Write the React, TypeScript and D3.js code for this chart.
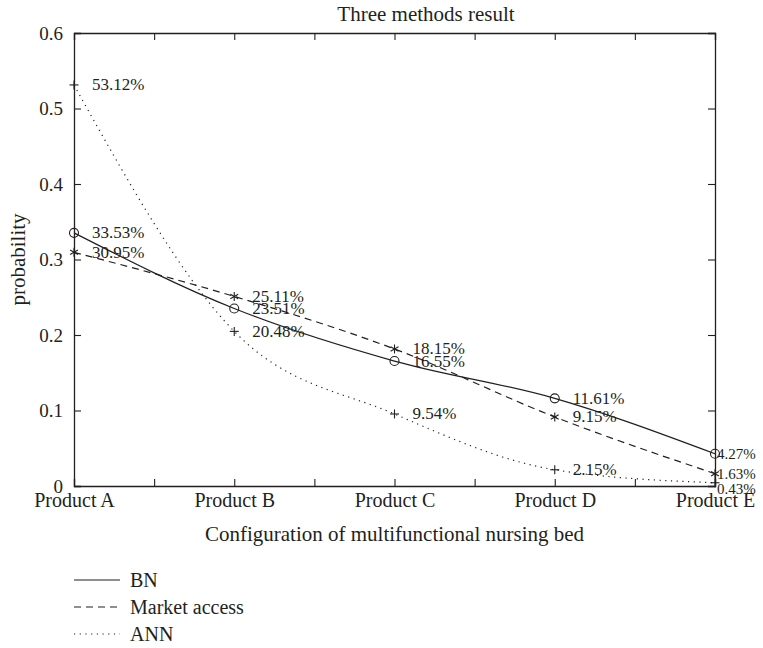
import React, { useEffect, useRef } from "react";
import * as d3 from "d3";

// values
const products = ["Product A", "Product B", "Product C", "Product D", "Product E"];
const bnValues = [0.3353, 0.2351, 0.1655, 0.1161, 0.0427];
const marketValues = [0.3095, 0.2511, 0.1815, 0.0915, 0.0163];
const annValues = [0.5312, 0.2048, 0.0954, 0.0215, 0.0043];
const yTicks = [0, 0.1, 0.2, 0.3, 0.4, 0.5, 0.6];
const xTicks = [1, 1.5, 2, 2.5, 3, 3.5, 4, 4.5, 5];
const seriesNames = ["BN", "Market access", "ANN"];

const FONT = "'Liberation Serif', 'Times New Roman', serif";
const INK = "#231f20";

export default function App() {
  const svgRef = useRef<SVGSVGElement>(null);

  useEffect(() => {
    document.body.style.margin = "0";
    const width = 763;
    const height = 648;
    const margin = { top: 33, right: 48, bottom: 162, left: 74 };

    const svg = d3.select(svgRef.current);
    svg.selectAll("*").remove();
    svg.attr("width", width).attr("height", height).style("display", "block");

    const x = d3.scaleLinear().domain([1, 5]).range([margin.left, width - margin.right]);
    const y = d3.scaleLinear().domain([0, 0.6]).range([height - margin.bottom, margin.top]);

    const series = [
      { name: seriesNames[0], values: bnValues, dash: null, marker: "circle" },
      { name: seriesNames[1], values: marketValues, dash: "7 5", marker: "star" },
      { name: seriesNames[2], values: annValues, dash: "1.2 4.5", marker: "plus" },
    ];

    const styleAxis = (size) => (g) => {
      g.select(".domain").attr("stroke", INK).attr("stroke-width", 1.3);
      g.selectAll(".tick line").attr("stroke", INK).attr("stroke-width", 1.1);
      g.selectAll(".tick text")
        .attr("fill", INK)
        .style("font-family", FONT)
        .style("font-size", `${size}px`);
    };

    // axes, ticks inward on all four sides
    svg.append("g")
      .attr("transform", `translate(0,${y(0)})`)
      .call(
        d3.axisBottom(x)
          .tickValues(xTicks)
          .tickSize(-7)
          .tickPadding(7)
          .tickFormat((d) => (Number.isInteger(d) ? products[d - 1] : ""))
      )
      .call(styleAxis(20));

    svg.append("g")
      .attr("transform", `translate(0,${y(0.6)})`)
      .call(d3.axisTop(x).tickValues(xTicks).tickSize(-7).tickFormat(() => ""))
      .call(styleAxis(19));

    svg.append("g")
      .attr("transform", `translate(${x(1)},0)`)
      .call(
        d3.axisLeft(y)
          .tickValues(yTicks)
          .tickSize(-7)
          .tickPadding(11)
          .tickFormat((d) => (d === 0 ? "0" : d3.format(".1f")(d)))
      )
      .call(styleAxis(19));

    svg.append("g")
      .attr("transform", `translate(${x(5)},0)`)
      .call(d3.axisRight(y).tickValues(yTicks).tickSize(-7).tickFormat(() => ""))
      .call(styleAxis(19));

    // lines
    const line = d3
      .line<number>()
      .x((_, i) => x(i + 1))
      .y((d) => y(d))
      .curve(d3.curveMonotoneX);

    series.forEach((s) => {
      svg.append("path")
        .datum(s.values)
        .attr("d", line)
        .attr("fill", "none")
        .attr("stroke", INK)
        .attr("stroke-width", 1.2)
        .attr("stroke-dasharray", s.dash);
    });

    // markers
    const drawMarker = (g, kind, cx, cy) => {
      if (kind === "circle") {
        g.append("circle").attr("cx", cx).attr("cy", cy).attr("r", 4.5)
          .attr("fill", "none").attr("stroke", INK).attr("stroke-width", 1.1);
      } else {
        const r = 4.5;
        const angles = kind === "plus" ? [0, 90] : [0, 60, 120];
        angles.forEach((a) => {
          const rad = (a * Math.PI) / 180;
          const dx = kind === "plus" ? r * Math.cos(rad) : r * Math.sin(rad);
          const dy = kind === "plus" ? r * Math.sin(rad) : r * Math.cos(rad);
          g.append("line")
            .attr("x1", cx - dx).attr("y1", cy - dy)
            .attr("x2", cx + dx).attr("y2", cy + dy)
            .attr("stroke", INK).attr("stroke-width", 1.1);
        });
      }
    };

    series.forEach((s) => {
      const g = svg.append("g");
      s.values.forEach((v, i) => drawMarker(g, s.marker, x(i + 1), y(v)));
    });

    // percentage labels (the last column sits tight against the right edge)
    series.forEach((s, si) => {
      s.values.forEach((v, i) => {
        const last = i === products.length - 1;
        svg.append("text")
          .attr("x", x(i + 1) + (last ? 2 : 18))
          .attr("y", y(v) + (last && si === 2 ? 6 : 0))
          .attr("dominant-baseline", "central")
          .attr("fill", INK)
          .style("font-family", FONT)
          .style("font-size", last ? "15px" : "17px")
          .text(`${(v * 100).toFixed(2)}%`);
      });
    });

    // title and axis labels
    svg.append("text")
      .attr("x", 426)
      .attr("y", 21)
      .attr("text-anchor", "middle")
      .attr("fill", INK)
      .style("font-family", FONT)
      .style("font-size", "21px")
      .text("Three methods result");

    svg.append("text")
      .attr("transform", `translate(25,${(y(0) + y(0.6)) / 2}) rotate(-90)`)
      .attr("text-anchor", "middle")
      .attr("fill", INK)
      .style("font-family", FONT)
      .style("font-size", "21px")
      .text("probability");

    svg.append("text")
      .attr("x", (x(1) + x(5)) / 2)
      .attr("y", 541)
      .attr("text-anchor", "middle")
      .attr("fill", INK)
      .style("font-family", FONT)
      .style("font-size", "21px")
      .text("Configuration of multifunctional nursing bed");

    // legend
    series.forEach((s, i) => {
      const ly = 580 + i * 27;
      svg.append("line")
        .attr("x1", 74).attr("x2", 120)
        .attr("y1", ly).attr("y2", ly)
        .attr("stroke", INK)
        .attr("stroke-width", 1.2)
        .attr("stroke-dasharray", s.dash);
      svg.append("text")
        .attr("x", 130)
        .attr("y", ly + 7)
        .attr("fill", INK)
        .style("font-family", FONT)
        .style("font-size", "20px")
        .text(s.name);
    });
  }, []);

  return <svg ref={svgRef}></svg>;
}
